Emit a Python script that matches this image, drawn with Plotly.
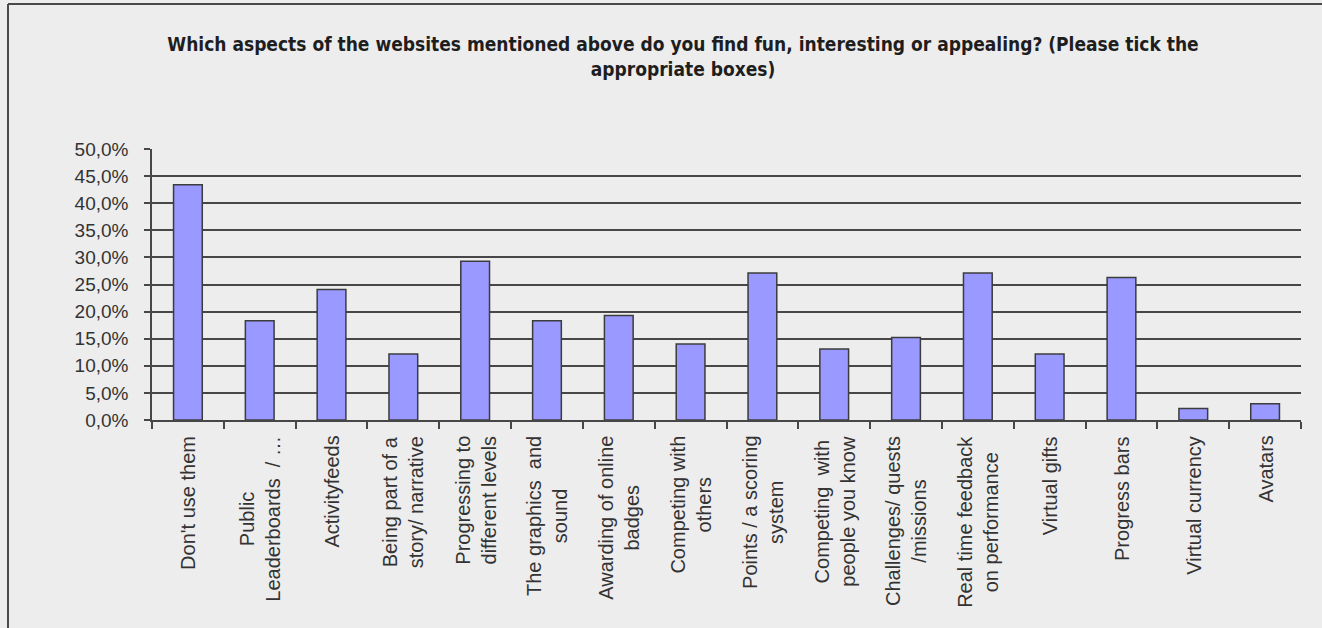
import plotly.graph_objects as go

# Survey answers: share of respondents who ticked each website feature
categories = [
    "Don't use them",
    "Public<br>Leaderboards \u00a0/ \u2026",
    "Activityfeeds",
    "Being part of a<br>story/ narrative",
    "Progressing to<br>different levels",
    "The graphics \u00a0and<br>sound",
    "Awarding of online<br>badges",
    "Competing with<br>others",
    "Points / a scoring<br>system",
    "Competing \u00a0with<br>people you know",
    "Challenges/ quests<br>/missions",
    "Real time feedback<br>on performance",
    "Virtual gifts",
    "Progress bars",
    "Virtual currency",
    "Avatars",
]
percent_values = [43.4, 18.3, 24.1, 12.2, 29.3, 18.3, 19.3, 14.0,
                  27.1, 13.1, 15.2, 27.1, 12.2, 26.3, 2.1, 3.0]

y_tick_values = [0, 5, 10, 15, 20, 25, 30, 35, 40, 45, 50]
y_tick_labels = ["0,0%", "5,0%", "10,0%", "15,0%", "20,0%", "25,0%",
                 "30,0%", "35,0%", "40,0%", "45,0%", "50,0%"]

title_text = ("Which aspects of the websites mentioned above do you find fun, "
              "interesting or appealing? (Please tick the<br>appropriate boxes)")

W, H = 1322, 628
L, R, T, B = 152, 21, 149, 208
plot_w = W - L - R
plot_h = H - T - B

BG = "#EDEDED"
GRID = "#474747"
LABEL = "#333333"
BODY_FONT = "Liberation Sans, Arial, sans-serif"

fig = go.Figure(
    go.Bar(
        x=categories,
        y=percent_values,
        marker=dict(color="#9999FF", line=dict(color="#3C3C3C", width=1.5)),
        hoverinfo="skip",
    )
)

# Category labels, rotated and centred under each bar
annotations = [
    dict(
        x=c, y=0, xref="x", yref="paper",
        text=c, textangle=-90,
        xanchor="center", yanchor="top", yshift=-14,
        align="center", showarrow=False,
        font=dict(family=BODY_FONT, size=20, color=LABEL),
    )
    for c in categories
]

def px_x(px):
    return (px - L) / plot_w

def px_y(py):
    return (H - B - py) / plot_h

# Outer frame (top and left edges)
shapes = [
    dict(type="line", xref="paper", yref="paper",
         x0=px_x(8), x1=px_x(W), y0=px_y(4), y1=px_y(4),
         line=dict(color="#4A4A4A", width=2)),
    dict(type="line", xref="paper", yref="paper",
         x0=px_x(8), x1=px_x(8), y0=px_y(4), y1=px_y(H),
         line=dict(color="#4A4A4A", width=2)),
]

fig.update_layout(
    width=W, height=H,
    margin=dict(l=L, r=R, t=T, b=B, pad=0),
    paper_bgcolor=BG, plot_bgcolor=BG,
    bargap=0.6,
    showlegend=False,
    title=dict(
        text=title_text,
        x=683 / W, xanchor="center",
        y=1 - 51 / H, yanchor="top", yref="container",
        font=dict(family="Liberation Sans Narrow, DejaVu Sans Condensed, Arial Narrow, Liberation Sans, sans-serif",
                  size=19, color="#1E1E1E", weight="bold"),
    ),
    annotations=annotations,
    shapes=shapes,
)

fig.update_xaxes(
    type="category",
    showticklabels=False,
    showline=True, linecolor=GRID, linewidth=1.5,
    ticks="outside", tickson="boundaries", ticklen=7,
    tickcolor=GRID, tickwidth=1.5,
    showgrid=False, zeroline=False,
)

fig.update_yaxes(
    range=[0, 50],
    tickvals=y_tick_values, ticktext=y_tick_labels,
    showline=True, linecolor=GRID, linewidth=1.5,
    ticks="outside", ticklen=6, tickcolor=GRID, tickwidth=1.5,
    ticklabelstandoff=12,
    tickfont=dict(family=BODY_FONT, size=19, color=LABEL),
    showgrid=True, gridcolor=GRID, gridwidth=1.5,
    zeroline=False,
)

fig.write_html("out.html")
